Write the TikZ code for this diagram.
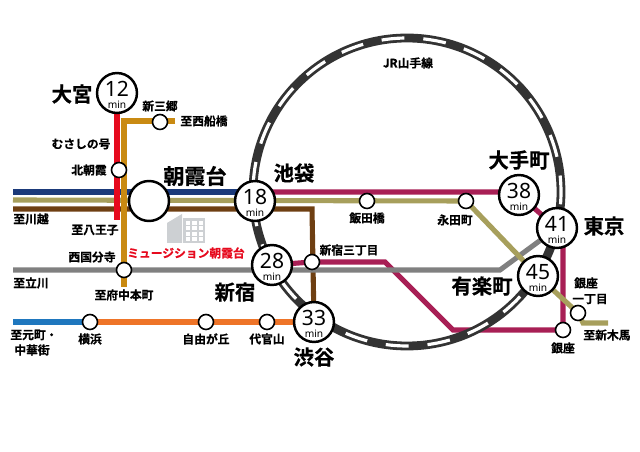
\documentclass[tikz,border=0pt]{standalone}
\usepackage{fontspec}
\usepackage{xcolor}
\usetikzlibrary{positioning,backgrounds}
\setmainfont{Noto Sans CJK JP}[BoldFont={Noto Sans CJK JP Bold},BoldFeatures={FakeBold=0.6}]
\newfontfamily\latinfont{Noto Sans}
\definecolor{navyline}{HTML}{1B3A7A}
\definecolor{oliveline}{HTML}{A79F5C}
\definecolor{brownline}{HTML}{6E3F12}
\definecolor{maroonline}{HTML}{A81F55}
\definecolor{redline}{HTML}{E60A1E}
\definecolor{ochreline}{HTML}{C98A12}
\definecolor{greyline}{HTML}{808080}
\definecolor{skyline}{HTML}{1F77BE}
\definecolor{orangeline}{HTML}{EE7428}
\definecolor{ringgrey}{HTML}{333333}
\definecolor{buildinggrey}{HTML}{CDD0D3}
\newcommand{\timelabel}[1]{\rule{0pt}{10.9pt}{\latinfont\fontsize{12}{11}\selectfont #1}\\[-4.8pt]{\latinfont\fontsize{5.8}{6}\selectfont min}}

\begin{document}
\begin{tikzpicture}[
    x=0.02cm,
    y=-0.02cm,
    railway/.style={
		line width=2.9pt
	},
	station/.style={
		circle,
		draw=black,
		line width=0.9pt,
		fill=white,
		inner sep=0pt,
		minimum size=0.3cm
	},
	timenode/.style={
		circle,
		draw=black,
		line width=1.4pt,
		fill=white,
		inner sep=0pt,
		minimum size=0.78cm,
		align=center
	},
	bigname/.style={
		font=\bfseries\fontsize{11.6}{12}\selectfont,
		inner sep=0pt
	},
	smallname/.style={
		font=\bfseries\fontsize{6.7}{7}\selectfont,
		inner sep=0pt
	}
  ]

 \useasboundingbox (0,0) rectangle (640,452);

 % stations
 \coordinate (ringcentre) at (407,192);
 \node [timenode] (omiya) at (117,93) {\timelabel{12}};
 \node [timenode] (ikebukuro) at (255,201) {\timelabel{18}};
 \node [timenode] (shinjuku) at (272,265) {\timelabel{28}};
 \node [timenode] (shibuya) at (314,322) {\timelabel{33}};
 \node [timenode] (otemachi) at (519,195) {\timelabel{38}};
 \node [timenode] (tokyo) at (557,228) {\timelabel{41}};
 \node [timenode] (yurakucho) at (538,276) {\timelabel{45}};
 \node [timenode, minimum size=0.8cm] (asakadai) at (149,201) {};
 \node [station] (shinmisato) at (160,122) {};
 \node [station] (kitaasaka) at (119,170) {};
 \node [station] (nishikokubunji) at (124,270) {};
 \node [station] (yokohama) at (90,322) {};
 \node [station] (jiyugaoka) at (206,322) {};
 \node [station] (daikanyama) at (267,322) {};
 \node [station] (sanchome) at (312,262) {};
 \node [station] (iidabashi) at (367,201) {};
 \node [station] (nagatacho) at (466,201) {};
 \node [station] (ginza) at (563,330) {};
 \node [station] (itchome) at (578,313) {};

 % line ends and corners
 \coordinate (toomiya) at (13,192);
 \coordinate (tokawagoeolive) at (13,200);
 \coordinate (tokawagoe) at (13,209);
 \coordinate (brownturn) at (312,209);
 \coordinate (redend) at (117,220);
 \coordinate (ochretop) at (124,121);
 \coordinate (ochreend) at (175,121);
 \coordinate (ochrebottom) at (124,287);
 \coordinate (totachikawa) at (13,270);
 \coordinate (greyturn) at (500,270);
 \coordinate (tomotomachi) at (13,322);
 \coordinate (oliveturn) at (583,323);
 \coordinate (oliveend) at (608,323);
 \coordinate (maroonleft) at (385,262);
 \coordinate (maroonlow) at (453,330);

 \begin{scope}[on background layer]
 % lines
 \draw [railway, navyline] (toomiya) -- (ikebukuro.center |- toomiya);
 \draw [railway, maroonline] (ikebukuro.center |- toomiya) -- (otemachi.center |- toomiya) -- (otemachi.center) -- (tokyo.center) -- (ginza.center |- tokyo.center) -- (ginza.center) -- (maroonlow) -- (maroonleft) -- (sanchome.center) -- (shinjuku.center);
 \draw [railway, brownline] (tokawagoe) -- (brownturn) -- (shibuya.center);
 \draw [railway, greyline] (totachikawa) -- (greyturn) -- (tokyo.center);
 \draw [railway, oliveline] (tokawagoeolive) -- (nagatacho.center) -- (yurakucho.center) -- (itchome.center) -- (oliveturn) -- (oliveend);
 \draw [railway, redline] (omiya.center) -- (redend);
 \draw [railway, ochreline] (ochreend) -- (ochretop) -- (ochrebottom);
 \draw [railway, skyline] (tomotomachi) -- (yokohama.center);
 \draw [railway, orangeline] (yokohama.center) -- (shibuya.center);

 % JR ring
 \draw [line width=5pt, ringgrey] (ringcentre) circle [radius=154];
 \draw [line width=1.8pt, white, dash pattern=on 13pt off 10.8pt, dash phase=6pt] (ringcentre) circle [radius=154];
 \end{scope}

 % building
 \fill [buildinggrey] (167,223) -- (182,214) -- (182,243) -- (167,243) -- cycle;
 \fill [buildinggrey] (183,218) rectangle (205,243);
 \foreach \col in {0,1,2}
   \foreach \row in {0,1,2,3}
     \fill [white] (185.5+\col*6.5,221+\row*5.4) rectangle +(4.5,3.8);

 % big names
 \node [bigname] (omiyaname) at (72,94) {大宮};
 \node [bigname, font=\bfseries\fontsize{12}{12}\selectfont] (asakadainame) at (195,176) {朝霞台};
 \node [bigname] (ikebukuroname) at (294,173) {池袋};
 \node [bigname] (shinjukuname) at (235,292) {新宿};
 \node [bigname] (shibuyaname) at (314,357) {渋谷};
 \node [bigname] (otemachiname) at (519,160) {大手町};
 \node [bigname] (tokyoname) at (604,226) {東京};
 \node [bigname] (yurakuchoname) at (482,286) {有楽町};

 % small names
 \node [smallname] (shinmisatoname) at (160,106) {新三郷};
 \node [smallname] (funabashiname) at (204,121) {至西船橋};
 \node [smallname] (musashinoname) at (81,144) {むさしの号};
 \node [smallname] (kitaasakaname) at (89,170) {北朝霞};
 \node [smallname] (kawagoename) at (31,219) {至川越};
 \node [smallname] (hachiojiname) at (95,230) {至八王子};
 \node [smallname] (nishikokubunjiname) at (92,257) {西国分寺};
 \node [smallname] (tachikawaname) at (31,283) {至立川};
 \node [smallname] (fuchuname) at (124,295) {至府中本町};
 \node [smallname] (motomachiname) at (34,335) {至元町・};
 \node [smallname] (chukaname) at (32,350) {中華街};
 \node [smallname] (yokohamaname) at (90,339) {横浜};
 \node [smallname] (jiyugaokaname) at (206,339) {自由が丘};
 \node [smallname] (daikanyamaname) at (267,339) {代官山};
 \node [smallname] (sanchomename) at (349,250) {新宿三丁目};
 \node [smallname] (iidabashiname) at (367,218) {飯田橋};
 \node [smallname] (nagatachoname) at (455,220) {永田町};
 \node [smallname] (ginzaname) at (563,348) {銀座};
 \node [smallname] (ginzaitchname) at (586,283) {銀座};
 \node [smallname] (itchomename) at (590,299) {一丁目};
 \node [smallname] (shinkibaname) at (607,335) {至新木馬};
 \node [smallname] (yamanotename) at (408,63) {JR山手線};
 \node [smallname, text=redline] (museionname) at (186,253) {ミュージション朝霞台};

\end{tikzpicture}
\end{document}
